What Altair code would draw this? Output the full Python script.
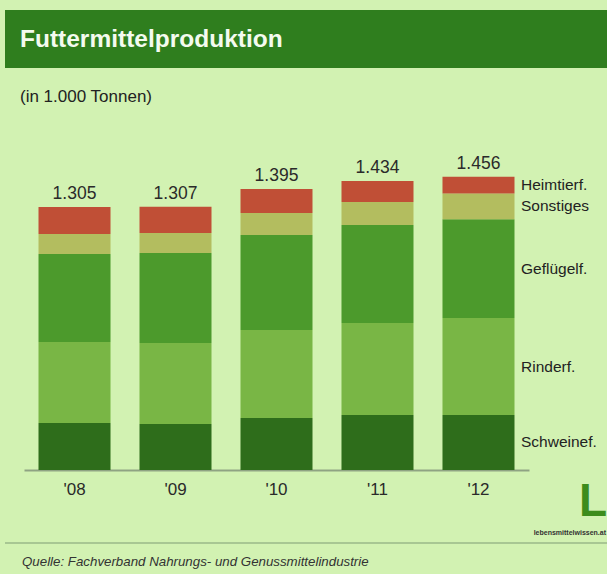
import altair as alt
import pandas as pd

years = ["'08", "'09", "'10", "'11", "'12"]
categories = ["Schweinef.", "Rinderf.", "Geflügelf.", "Sonstiges", "Heimtierf."]
schwein = [233, 228, 258, 273, 273]
rinder = [402, 402, 437, 457, 481]
gefluegel = [437, 447, 471, 486, 490]
sonstiges = [99, 99, 109, 114, 128]
heimtier = [134, 131, 120, 104, 84]
totals = [1305, 1307, 1395, 1434, 1456]
total_labels = ["1.305", "1.307", "1.395", "1.434", "1.456"]
colors = ["#2e6d1b", "#79b645", "#4c9a2c", "#b3bd5f", "#c04f36"]

series = [schwein, rinder, gefluegel, sonstiges, heimtier]
rows = []
for i, yr in enumerate(years):
    for j, (c, vals) in enumerate(zip(categories, series)):
        rows.append({"year": yr, "cat": c, "ord": j, "value": vals[i]})
df = pd.DataFrame(rows)
tot = pd.DataFrame({"year": years, "total": totals, "label": total_labels})
one = pd.DataFrame({"k": [0]})

FONT = "Liberation Sans"
xscale = alt.Scale(paddingInner=0.287, paddingOuter=0.1436)
yscale = alt.Scale(domain=[0, 1489], nice=False)
xenc = alt.X(
    "year:N", sort=years, scale=xscale,
    axis=alt.Axis(title=None, labelAngle=0, ticks=False, labelFontSize=17,
                  labelColor="#2a2a2a", labelPadding=11, domainColor="#8fa383",
                  domainWidth=2, labelFont=FONT),
)

bars = alt.Chart(df).mark_bar().encode(
    x=xenc,
    y=alt.Y("value:Q", stack="zero", scale=yscale, axis=None),
    color=alt.Color("cat:N", scale=alt.Scale(domain=categories, range=colors), legend=None),
    order=alt.Order("ord:Q", sort="ascending"),
)

top_labels = alt.Chart(tot).mark_text(
    dy=-8, baseline="alphabetic", fontSize=17.5, color="#2a2a2a", font=FONT
).encode(
    x=alt.X("year:N", sort=years, scale=xscale),
    y=alt.Y("total:Q", scale=yscale),
    text="label:N",
)

right_labels = alt.Chart(df).transform_filter(
    alt.datum.year == "'12"
).transform_window(
    cum="sum(value)", sort=[alt.SortField("ord")], frame=[None, 0]
).transform_calculate(
    mid="datum.cum - datum.value / 2"
).mark_text(align="left", baseline="middle", fontSize=15.5, color="#222222", font=FONT).encode(
    x=alt.value(497),
    y=alt.Y("mid:Q", scale=yscale),
    text="cat:N",
)

band = alt.Chart(one).mark_rect(color="#2f7e1e").encode(
    x=alt.value(-19), x2=alt.value(583), y=alt.value(-160), y2=alt.value(-102)
)
title = alt.Chart(one).mark_text(
    align="left", baseline="middle", fontSize=24.5, fontWeight="bold", color="#f4fbef", font=FONT
).encode(x=alt.value(-4), y=alt.value(-130), text=alt.value("Futtermittelproduktion"))
subtitle = alt.Chart(one).mark_text(
    align="left", baseline="middle", fontSize=17, color="#222222", font=FONT
).encode(x=alt.value(-4), y=alt.value(-73), text=alt.value("(in 1.000 Tonnen)"))
src_line = alt.Chart(one).mark_rule(color="#9ab888", strokeWidth=1.5).encode(
    x=alt.value(-19), x2=alt.value(583), y=alt.value(373)
)
source = alt.Chart(one).mark_text(
    align="left", baseline="middle", fontSize=13.3, fontStyle="italic", color="#333333", font=FONT
).encode(x=alt.value(-2), y=alt.value(392),
         text=alt.value("Quelle: Fachverband Nahrungs- und Genussmittelindustrie"))
logo = alt.Chart(one).mark_text(
    align="left", baseline="alphabetic", fontSize=46, fontWeight="bold", color="#3c8c1c", font=FONT
).encode(x=alt.value(555), y=alt.value(346), text=alt.value("L"))
logo_txt = alt.Chart(one).mark_text(
    align="right", baseline="middle", fontSize=7, fontWeight="bold", color="#333333", font=FONT
).encode(x=alt.value(582), y=alt.value(363), text=alt.value("lebensmittelwissen.at"))

chart = alt.layer(
    band, title, subtitle, bars, top_labels, right_labels, src_line, source, logo, logo_txt
).properties(
    width=505, height=300,
    autosize=alt.AutoSizeParams(type="none"),
    padding={"left": 24, "top": 170, "right": 78, "bottom": 104},
    background="#d2f2b2",
).configure_view(stroke=None)

chart.save("out.html", embed_options={"renderer": "svg", "actions": False})
